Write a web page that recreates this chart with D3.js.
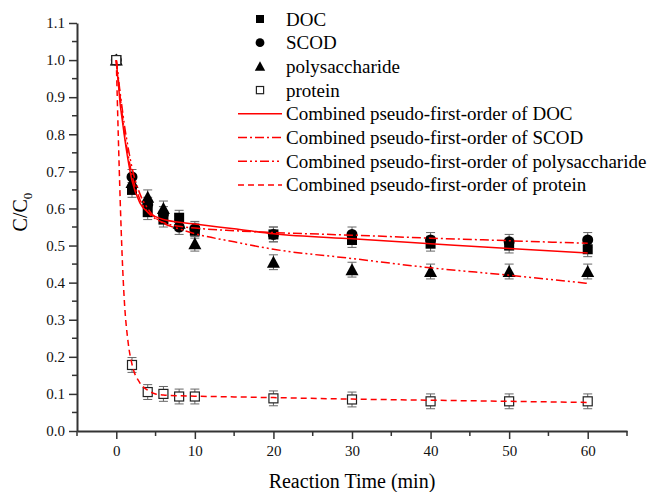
<!DOCTYPE html>
<html lang="en">
    <head>
        <script src="https://d3js.org/d3.v7.min.js"></script>
        <style>
            body { margin: 0; background: #fff; }
            text { font-family: "Liberation Serif", "Times New Roman", serif; }
        </style>
    </head>
    <body>
    <div id="mainDiv"></div>
        <script type="text/javascript">
            // measured data
            const times = [0, 2, 4, 6, 8, 10, 20, 30, 40, 50, 60]
            const docVals = [1.0, 0.65, 0.59, 0.57, 0.575, 0.54, 0.53, 0.515, 0.505, 0.50, 0.49]
            const scodVals = [1.0, 0.685, 0.61, 0.585, 0.55, 0.545, 0.53, 0.53, 0.515, 0.51, 0.515]
            const polyVals = [1.0, 0.67, 0.63, 0.60, 0.56, 0.505, 0.455, 0.435, 0.43, 0.43, 0.43]
            const protVals = [1.0, 0.178, 0.105, 0.10, 0.093, 0.093, 0.088, 0.085, 0.08, 0.08, 0.08]
            const docErr = [0.005, 0.02, 0.02, 0.02, 0.02, 0.02, 0.02, 0.02, 0.02, 0.02, 0.02]
            const scodErr = [0.005, 0.02, 0.02, 0.02, 0.02, 0.02, 0.02, 0.02, 0.02, 0.02, 0.02]
            const polyErr = [0.005, 0.02, 0.02, 0.02, 0.02, 0.02, 0.02, 0.02, 0.02, 0.02, 0.02]
            const protErr = [0.005, 0.02, 0.02, 0.02, 0.02, 0.02, 0.02, 0.02, 0.02, 0.02, 0.02]

            // fitted curves
            const fitTimes = [0, 0.25, 0.5, 0.75, 1, 1.5, 2, 3, 4, 5, 6, 8, 10, 15, 20, 30, 40, 50, 60]
            const docFit  = [1.0, 0.94, 0.88, 0.84, 0.80, 0.73, 0.675, 0.615, 0.59, 0.578, 0.57, 0.563, 0.558, 0.545, 0.532, 0.518, 0.505, 0.492, 0.48]
            const scodFit = [1.0, 0.95, 0.90, 0.855, 0.81, 0.745, 0.69, 0.625, 0.59, 0.572, 0.562, 0.552, 0.547, 0.54, 0.535, 0.528, 0.52, 0.513, 0.506]
            const polyFit = [1.0, 0.955, 0.91, 0.87, 0.83, 0.765, 0.71, 0.64, 0.60, 0.575, 0.56, 0.545, 0.532, 0.51, 0.49, 0.465, 0.44, 0.42, 0.398]
            const protFit = [1.0, 0.80, 0.62, 0.47, 0.36, 0.24, 0.18, 0.13, 0.11, 0.10, 0.097, 0.095, 0.094, 0.092, 0.09, 0.086, 0.083, 0.08, 0.077]

            const xTicks = [0, 10, 20, 30, 40, 50, 60]
            const yTicks = [0, 0.1, 0.2, 0.3, 0.4, 0.5, 0.6, 0.7, 0.8, 0.9, 1.0, 1.1]

            const width = 651
            const height = 492
            const svg = d3.select('#mainDiv').append('svg')
                .attr('width', width)
                .attr('height', height)

            const xScale = d3.scaleLinear().domain([-5, 65]).range([77, 627])
            const yScale = d3.scaleLinear().domain([0, 1.1]).range([431, 23])

            const axisColor = '#333'

            // x axis
            const xAxis = svg.append('g').attr('transform', 'translate(0,431)')
                .call(d3.axisBottom(xScale).tickValues(xTicks).tickSize(8).tickPadding(6).tickSizeOuter(0))
            xAxis.append('g').selectAll('line')
                .data(d3.range(-5, 66, 10))
                .join('line')
                .attr('x1', d => xScale(d)).attr('x2', d => xScale(d))
                .attr('y1', 0).attr('y2', 5)
            // y axis
            const yAxis = svg.append('g').attr('transform', 'translate(77,0)')
                .call(d3.axisLeft(yScale).tickValues(yTicks).tickFormat(d3.format('.1f')).tickSize(8).tickPadding(4).tickSizeOuter(0))
            yAxis.append('g').selectAll('line')
                .data(d3.range(0.05, 1.1, 0.1))
                .join('line')
                .attr('x1', 0).attr('x2', -5)
                .attr('y1', d => yScale(d)).attr('y2', d => yScale(d))
            svg.selectAll('.domain').attr('stroke', axisColor).attr('stroke-width', 2)
            svg.selectAll('g line').attr('stroke', axisColor).attr('stroke-width', 1.5)
            svg.selectAll('.tick text').attr('font-size', 15).attr('fill', '#111')
                .style('font-family', '"Liberation Serif", serif')

            svg.append('text').attr('x', 352).attr('y', 488).attr('text-anchor', 'middle')
                .attr('font-size', 20).text('Reaction Time (min)')
            const yTitle = svg.append('text').attr('transform', 'translate(27,212) rotate(-90)')
                .attr('text-anchor', 'middle').attr('font-size', 20)
            yTitle.append('tspan').text('C/C')
            yTitle.append('tspan').attr('font-size', 13).attr('dy', 5).text('0')

            const series = [
                { name: 'DOC', vals: docVals, err: docErr, shape: 'square' },
                { name: 'SCOD', vals: scodVals, err: scodErr, shape: 'circle' },
                { name: 'polysaccharide', vals: polyVals, err: polyErr, shape: 'triangle' },
                { name: 'protein', vals: protVals, err: protErr, shape: 'open' }
            ]

            function drawMarker(g, shape, cx, cy, k) {
                if (shape === 'square') {
                    g.append('rect').attr('x', cx - 5 * k).attr('y', cy - 5 * k).attr('width', 10 * k).attr('height', 10 * k).attr('fill', '#000')
                } else if (shape === 'circle') {
                    g.append('circle').attr('cx', cx).attr('cy', cy).attr('r', 5.5 * k).attr('fill', '#000')
                } else if (shape === 'triangle') {
                    g.append('path').attr('d', `M${cx},${cy - 6.5 * k}L${cx + 6.5 * k},${cy + 5.5 * k}L${cx - 6.5 * k},${cy + 5.5 * k}Z`).attr('fill', '#000')
                } else {
                    g.append('rect').attr('x', cx - 4.5 * k).attr('y', cy - 4.5 * k).attr('width', 9 * k).attr('height', 9 * k)
                        .attr('fill', '#fff').attr('stroke', '#222').attr('stroke-width', 1.2)
                }
            }

            const marks = svg.append('g')
            series.forEach(s => {
                times.forEach((t, i) => {
                    const x = xScale(t)
                    const lo = yScale(s.vals[i] - s.err[i]), hi = yScale(s.vals[i] + s.err[i])
                    const eb = marks.append('g').attr('stroke', '#666').attr('stroke-width', 1)
                    eb.append('line').attr('x1', x).attr('x2', x).attr('y1', lo).attr('y2', hi)
                    eb.append('line').attr('x1', x - 4.5).attr('x2', x + 4.5).attr('y1', lo).attr('y2', lo)
                    eb.append('line').attr('x1', x - 4.5).attr('x2', x + 4.5).attr('y1', hi).attr('y2', hi)
                })
            })
            series.forEach(s => {
                times.forEach((t, i) => drawMarker(marks, s.shape, xScale(t), yScale(s.vals[i]), 1))
            })

            const fits = [
                { name: 'Combined pseudo-first-order of DOC', vals: docFit, dash: null },
                { name: 'Combined pseudo-first-order of SCOD', vals: scodFit, dash: '9,3,2,3' },
                { name: 'Combined pseudo-first-order of polysaccharide', vals: polyFit, dash: '9,3,2,3,2,3' },
                { name: 'Combined pseudo-first-order of protein', vals: protFit, dash: '6,4' }
            ]
            const line = d3.line()
                .x((d, i) => xScale(fitTimes[i]))
                .y(d => yScale(d))
                .curve(d3.curveMonotoneX)
            fits.forEach(f => {
                svg.append('path').datum(f.vals).attr('d', line)
                    .attr('fill', 'none').attr('stroke', '#f00').attr('stroke-width', 1.5)
                    .attr('stroke-dasharray', f.dash)
            })

            // legend
            const legend = svg.append('g')
            const rowY = i => 19 + i * 23.7
            series.forEach((s, i) => {
                drawMarker(legend, s.shape, 260, rowY(i), 0.8)
                legend.append('text').attr('x', 286).attr('y', rowY(i) + 6.5).attr('font-size', 19).text(s.name)
            })
            fits.forEach((f, j) => {
                const i = j + 4
                legend.append('line').attr('x1', 238).attr('x2', 282).attr('y1', rowY(i)).attr('y2', rowY(i))
                    .attr('stroke', '#f00').attr('stroke-width', 1.5).attr('stroke-dasharray', f.dash)
                legend.append('text').attr('x', 286).attr('y', rowY(i) + 6.5).attr('font-size', 19).text(f.name)
            })
        </script>
    </body>
</html>
